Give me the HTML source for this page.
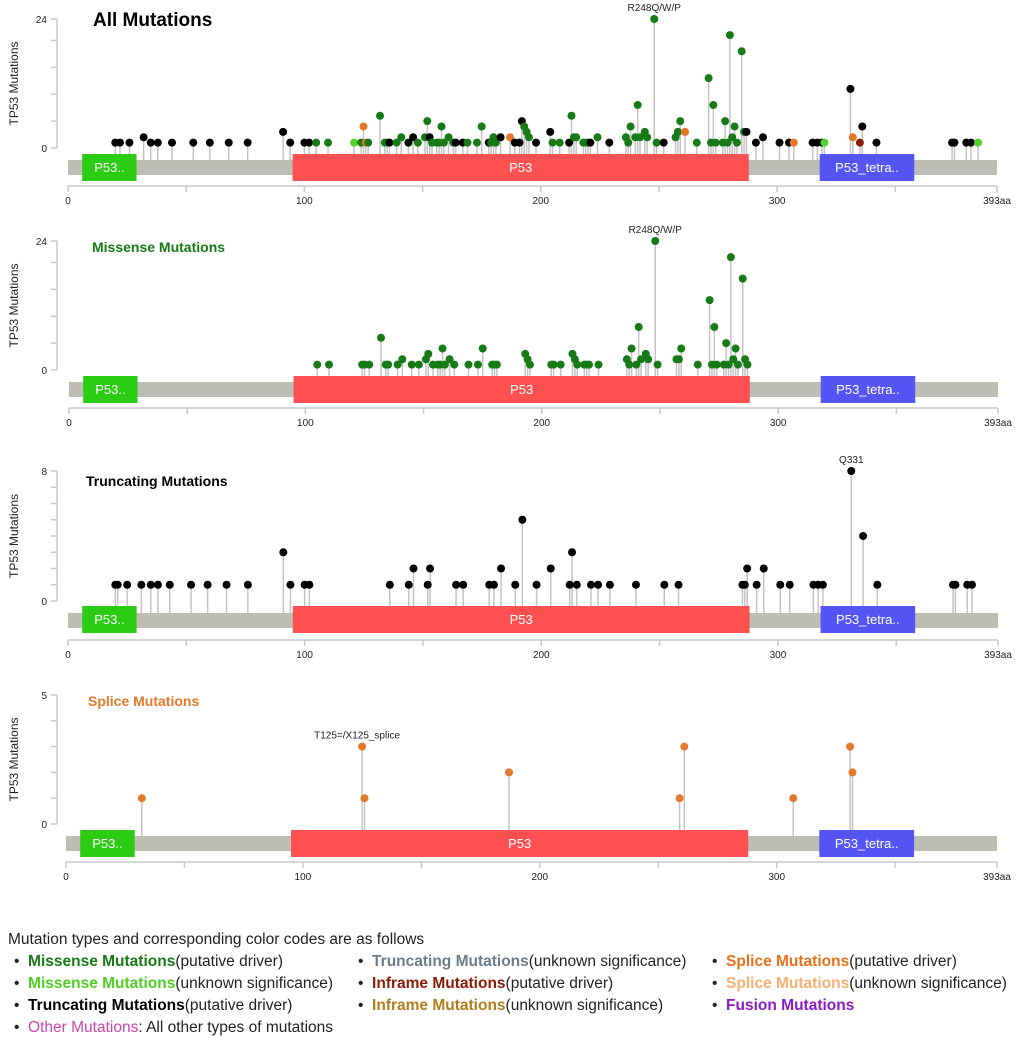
<!DOCTYPE html>
<html><head><meta charset="utf-8"><style>
body{margin:0;background:#fff;}
svg{display:block;font-family:"Liberation Sans",Arial,sans-serif;}
</style></head><body>
<svg id="chart" width="1020" height="1038" viewBox="0 0 1020 1038" xmlns="http://www.w3.org/2000/svg"></svg>
<script>
// ---- data ----
const domainNames = ["P53..", "P53", "P53_tetra.."];
const domainStart = [6, 95, 318];
const domainEnd = [29, 288, 358];
const xTickValues = [0, 50, 100, 150, 200, 250, 300, 350, 393];
const xTickLabels = ["0", "", "100", "", "200", "", "300", "", "393aa"];

const allPos = [20,22,26,32,35,38,44,53,60,68,76,91,94,100,102,105,110,121,124,125,126,127,132,134,135,136,139,141,144,146,148,151,152,153,154,156,157,158,159,161,163,164,167,169,173,175,178,179,180,181,183,187,189,191,192,193,194,195,198,204,205,208,212,213,214,215,218,219,220,221,224,229,236,237,238,240,241,242,244,245,248,249,252,257,258,259,261,266,271,272,273,274,277,278,279,280,281,282,283,285,286,287,291,294,301,305,307,315,317,319,320,331,332,335,336,342,374,375,380,382,385];
const allCount = [1,1,1,2,1,1,1,1,1,1,1,3,1,1,1,1,1,1,1,4,1,1,6,1,1,1,1,2,1,2,1,2,5,2,1,1,1,4,1,2,1,1,1,1,1,4,1,1,2,1,2,2,1,1,5,4,3,2,1,3,1,1,1,6,2,2,1,1,1,1,2,1,2,1,4,2,8,2,3,2,24,1,1,2,3,5,3,1,13,1,8,1,1,5,1,21,2,4,1,18,3,3,1,2,1,1,1,1,1,1,1,11,2,1,4,1,1,1,1,1,1];
const allType = ["k","k","k","k","k","k","k","k","k","k","k","k","k","k","k","g","g","lg","g","o","o","g","g","g","g","k","g","g","k","k","g","g","g","k","g","g","g","g","g","g","g","k","k","g","g","g","k","g","g","g","k","o","k","k","k","g","g","g","k","k","g","g","k","g","g","g","g","g","g","k","g","k","g","g","g","g","g","g","g","g","g","g","k","g","g","g","o","g","g","g","g","g","g","g","g","g","g","g","g","g","g","k","k","k","k","k","o","k","k","k","lg","k","o","dr","k","k","k","k","k","k","lg"];

const misPos = [105,110,124,125,127,132,134,135,139,141,145,148,151,152,154,156,157,158,159,161,163,169,173,175,179,180,181,193,194,195,204,205,208,213,214,215,218,219,220,224,236,237,238,240,241,242,244,245,248,249,257,258,259,266,271,272,273,274,277,278,279,280,281,282,283,285,286,287];
const misCount = [1,1,1,1,1,6,1,1,1,2,1,1,2,3,1,1,1,4,1,2,1,1,1,4,1,1,1,3,2,1,1,1,1,3,2,1,1,1,1,1,2,1,4,1,8,2,3,2,24,1,2,2,4,1,13,1,8,1,1,5,1,21,2,4,1,17,2,1];

const truPos = [20,21,25,31,35,38,43,52,59,67,76,91,94,100,102,136,144,146,152,153,164,167,178,180,183,189,192,198,204,212,213,215,221,224,229,240,252,258,285,286,287,291,294,301,305,315,317,319,331,336,342,374,375,380,382];
const truCount = [1,1,1,1,1,1,1,1,1,1,1,3,1,1,1,1,1,2,1,2,1,1,1,1,2,1,5,1,2,1,3,1,1,1,1,1,1,1,1,1,2,1,2,1,1,1,1,1,8,4,1,1,1,1,1];

const splPos = [32,125,126,187,259,261,307,331,332];
const splCount = [1,3,1,2,1,3,1,3,2];

const typeColor = {k:"#000000", g:"#167a16", lg:"#55d12e", o:"#e2782a", dr:"#8b1a06"};

// ---- layout ----
const svg = document.getElementById('chart');
const NS = "http://www.w3.org/2000/svg";
function mk(tag, attrs, parent){
  const e = document.createElementNS(NS, tag);
  for (const k in attrs) e.setAttribute(k, attrs[k]);
  (parent||svg).appendChild(e);
  return e;
}

const panels = [
  {key:"all", title:"All Mutations", tColor:"#000", tSize:19, tx:93, ty:26, x0:68, x1:997, y0:148, yTop:19, max:24, ticks:[0,5,10,15,20,24], lbls:[0,24], barY:160, domY:154, axisY:186, pos:allPos, cnt:allCount, typ:allType, label:{i:248, text:"R248Q/W/P"}},
  {key:"missense", title:"Missense Mutations", tColor:"#167a16", tSize:14, tx:92, ty:252, x0:69, x1:998, y0:370, yTop:241, max:24, ticks:[0,5,10,15,20,24], lbls:[0,24], barY:382, domY:376, axisY:408, pos:misPos, cnt:misCount, typ:null, col:"#167a16", label:{i:248, text:"R248Q/W/P"}},
  {key:"truncating", title:"Truncating Mutations", tColor:"#000", tSize:14, tx:86, ty:486, x0:68, x1:998, y0:601, yTop:471, max:8, ticks:[0,1,2,3,4,5,6,7,8], lbls:[0,8], barY:613, domY:606, axisY:640, pos:truPos, cnt:truCount, typ:null, col:"#000", label:{i:331, text:"Q331"}},
  {key:"splice", title:"Splice Mutations", tColor:"#e2782a", tSize:14, tx:88, ty:706, x0:66, x1:997, y0:824, yTop:695, max:5, ticks:[0,1,2,3,4,5], lbls:[0,5], barY:836, domY:830, axisY:862, pos:splPos, cnt:splCount, typ:null, col:"#e2782a", label:{i:125, text:"T125=/X125_splice", left:true}}
];
const domColors = ["#2ccb14", "#fd5050", "#5555f5"];

panels.forEach(p => {
  const g = mk('g', {});
  
  
  const xs = v => p.x0 + v * (p.x1 - p.x0) / 393;
  const ys = v => p.y0 - v * (p.y0 - p.yTop) / p.max;

  const ya = mk('g', {}, g);
  
  
  mk('line', {x1:57, x2:57, y1:ys(p.max), y2:p.y0, stroke:"#c8c8c8", "stroke-width":1.5}, ya);
  p.ticks.forEach(t => mk('line', {x1:51, x2:57, y1:ys(t), y2:ys(t), stroke:"#c8c8c8", "stroke-width":1.5}, ya));
  p.lbls.forEach(t => {
    const tx = mk('text', {x:47, y:ys(t)+4, "text-anchor":"end", "font-size":10, fill:"#222"}, ya);
    tx.textContent = t;
  });
  const yt = mk('text', {x:0, y:0, "font-size":12, fill:"#222", "text-anchor":"middle", transform:`translate(18,${(p.y0+p.yTop)/2}) rotate(-90)`}, g);
  yt.textContent = "TP53 Mutations";
  
  

  const ti = mk('text', {x:p.tx, y:p.ty, "font-size":p.tSize, "font-weight":"bold", fill:p.tColor}, g);
  ti.textContent = p.title;
  
  

  for (let i = 0; i < p.pos.length; i++) {
    const st = mk('line', {x1:xs(p.pos[i]), x2:xs(p.pos[i]), y1:p.barY, y2:ys(p.cnt[i]), stroke:"#c4c4c4", "stroke-width":1.5}, g);
    
    
  }
  const bb = mk('rect', {x:p.x0, y:p.barY, width:p.x1-p.x0, height:15, fill:"#bdbdb6"}, g);
  
  
  for (let d = 0; d < domainNames.length; d++) {
    const r = mk('rect', {x:xs(domainStart[d]), y:p.domY, width:xs(domainEnd[d])-xs(domainStart[d]), height:27, fill:domColors[d]}, g);
    
    
    const dt = mk('text', {x:(xs(domainStart[d])+xs(domainEnd[d]))/2, y:p.domY+18, "text-anchor":"middle", "font-size":13, fill:"#fff"}, g);
    dt.textContent = domainNames[d];
  }
  for (let i = 0; i < p.pos.length; i++) {
    const c = p.typ ? typeColor[p.typ[i]] : p.col;
    const dot = mk('circle', {cx:xs(p.pos[i]), cy:ys(p.cnt[i]), r:4, fill:c}, g);
    
    
  }
  const li = p.pos.indexOf(p.label.i);
  if (li >= 0) {
    const lx = xs(p.pos[li]);
    const lt = mk('text', {x:p.label.left ? lx-48 : lx, y:ys(p.cnt[li])-8, "text-anchor":p.label.left?"start":"middle", "font-size":10, fill:"#222"}, g);
    lt.textContent = p.label.text;
    
    
  }
  const xa = mk('g', {}, g);
  
  
  mk('line', {x1:xs(0), x2:xs(393), y1:p.axisY, y2:p.axisY, stroke:"#c8c8c8", "stroke-width":1.5}, xa);
  xTickValues.forEach((t, k) => {
    mk('line', {x1:xs(t), x2:xs(t), y1:p.axisY, y2:p.axisY+6, stroke:"#c8c8c8", "stroke-width":1.5}, xa);
    if (xTickLabels[k]) {
      const tl = mk('text', {x:xs(t), y:p.axisY+18, "text-anchor":"middle", "font-size":10, fill:"#222"}, xa);
      tl.textContent = xTickLabels[k];
    }
  });
});
</script>
<div style="position:absolute;left:0;top:928px;width:1020px;font-family:'Liberation Sans',Arial,sans-serif;font-size:15.5px;color:#222;">
  <div style="position:absolute;left:8px;top:3px;white-space:nowrap;">Mutation types and corresponding color codes are as follows</div>
  <div style="position:absolute;left:14px;top:25px;white-space:nowrap;">•&nbsp;&nbsp;<b style="color:#167a16">Missense Mutations</b>(putative driver)</div>
  <div style="position:absolute;left:14px;top:47px;white-space:nowrap;">•&nbsp;&nbsp;<b style="color:#4fcf22">Missense Mutations</b>(unknown significance)</div>
  <div style="position:absolute;left:14px;top:69px;white-space:nowrap;">•&nbsp;&nbsp;<b style="color:#000">Truncating Mutations</b>(putative driver)</div>
  <div style="position:absolute;left:14px;top:91px;white-space:nowrap;">•&nbsp;&nbsp;<span style="color:#cc44aa">Other Mutations</span>: All other types of mutations</div>
  <div style="position:absolute;left:358px;top:25px;white-space:nowrap;">•&nbsp;&nbsp;<b style="color:#6a7b8e">Truncating Mutations</b>(unknown significance)</div>
  <div style="position:absolute;left:358px;top:47px;white-space:nowrap;">•&nbsp;&nbsp;<b style="color:#8b1a06">Inframe Mutations</b>(putative driver)</div>
  <div style="position:absolute;left:358px;top:69px;white-space:nowrap;">•&nbsp;&nbsp;<b style="color:#b07d1a">Inframe Mutations</b>(unknown significance)</div>
  <div style="position:absolute;left:712px;top:25px;white-space:nowrap;">•&nbsp;&nbsp;<b style="color:#e8701a">Splice Mutations</b>(putative driver)</div>
  <div style="position:absolute;left:712px;top:47px;white-space:nowrap;">•&nbsp;&nbsp;<b style="color:#f2b070">Splice Mutations</b>(unknown significance)</div>
  <div style="position:absolute;left:712px;top:69px;white-space:nowrap;">•&nbsp;&nbsp;<b style="color:#8a1ac8">Fusion Mutations</b></div>
</div>
</body></html>
